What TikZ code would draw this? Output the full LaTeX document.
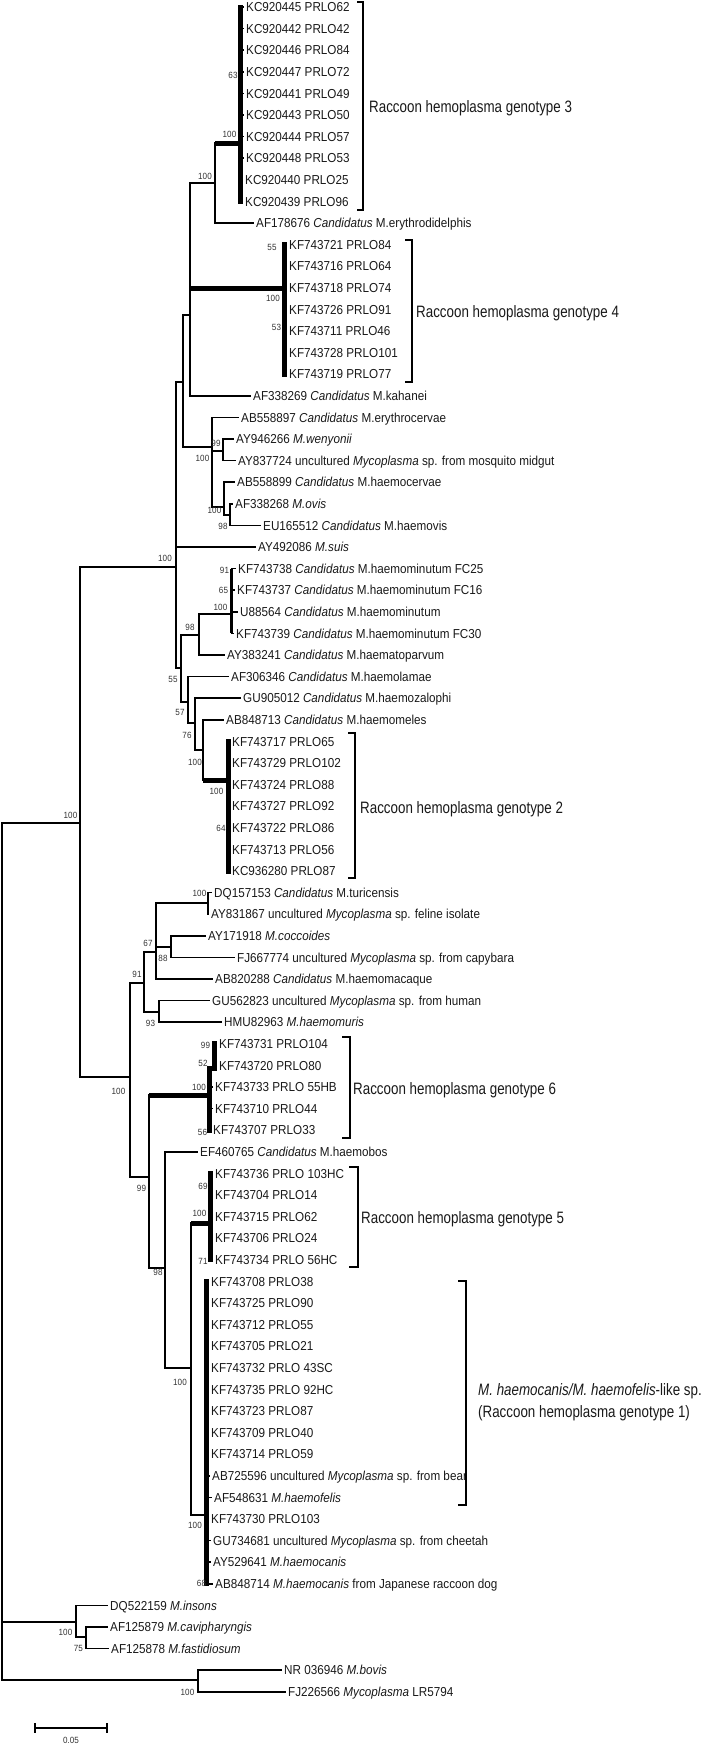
\documentclass[tikz,border=0pt]{standalone}
\usepackage{fontspec}
\setmainfont{Liberation Sans}
\newfontfamily\leaffont{Liberation Sans}[FakeStretch=0.9]
\newfontfamily\cladefont{Liberation Sans}[FakeStretch=0.81]
\usepackage{tikz}

\begin{document}
\begin{tikzpicture}[x=1pt,y=-1pt,
  leaf/.style={anchor=west,xshift=-2.5pt,inner xsep=2.5pt,inner ysep=0pt,text height=9.3pt,text depth=0pt,text=black!90,font=\leaffont\fontsize{13}{13}\selectfont},
  boot/.style={inner sep=0pt,text=black!80,font=\leaffont\fontsize{9}{9}\selectfont},
  clade/.style={anchor=west,inner sep=0pt,text height=12pt,text depth=0pt,text=black!90,font=\cladefont\fontsize{16.5}{22}\selectfont},
  ln/.style={line width=1.5pt},
  heavy/.style={line width=5pt},
  cbar/.style={line width=5pt,line cap=rect},
  brk/.style={line width=2pt}]
\useasboundingbox (0,0) rectangle (714,1746);

\node[leaf] (l0) at (246,7) {KC920445 PRLO62};
\node[leaf] (l1) at (246,28.6) {KC920442 PRLO42};
\node[leaf] (l2) at (246,50.2) {KC920446 PRLO84};
\node[leaf] (l3) at (246,71.8) {KC920447 PRLO72};
\node[leaf] (l4) at (246,93.4) {KC920441 PRLO49};
\node[leaf] (l5) at (246,115) {KC920443 PRLO50};
\node[leaf] (l6) at (246,136.6) {KC920444 PRLO57};
\node[leaf] (l7) at (246,158.2) {KC920448 PRLO53};
\node[leaf] (l8) at (245,179.8) {KC920440 PRLO25};
\node[leaf] (l9) at (245,201.4) {KC920439 PRLO96};
\node[leaf] (l10) at (256,223) {AF178676 \textit{Candidatus} M.erythrodidelphis};
\node[leaf] (l11) at (289,244.6) {KF743721 PRLO84};
\node[leaf] (l12) at (289,266.2) {KF743716 PRLO64};
\node[leaf] (l13) at (289,287.8) {KF743718 PRLO74};
\node[leaf] (l14) at (289,309.4) {KF743726 PRLO91};
\node[leaf] (l15) at (289,331) {KF743711 PRLO46};
\node[leaf] (l16) at (289,352.6) {KF743728 PRLO101};
\node[leaf] (l17) at (289,374.2) {KF743719 PRLO77};
\node[leaf] (l18) at (253,395.8) {AF338269 \textit{Candidatus} M.kahanei};
\node[leaf] (l19) at (241,417.4) {AB558897 \textit{Candidatus} M.erythrocervae};
\node[leaf] (l20) at (236,439) {AY946266 \textit{M.wenyonii}};
\node[leaf] (l21) at (238,460.6) {AY837724 uncultured \textit{Mycoplasma} sp. from mosquito midgut};
\node[leaf] (l22) at (237,482.2) {AB558899 \textit{Candidatus} M.haemocervae};
\node[leaf] (l23) at (235,503.8) {AF338268 \textit{M.ovis}};
\node[leaf] (l24) at (263,525.4) {EU165512 \textit{Candidatus} M.haemovis};
\node[leaf] (l25) at (258,547) {AY492086 \textit{M.suis}};
\node[leaf] (l26) at (238,568.6) {KF743738 \textit{Candidatus} M.haemominutum FC25};
\node[leaf] (l27) at (237,590.2) {KF743737 \textit{Candidatus} M.haemominutum FC16};
\node[leaf] (l28) at (240,611.8) {U88564 \textit{Candidatus} M.haemominutum};
\node[leaf] (l29) at (236,633.4) {KF743739 \textit{Candidatus} M.haemominutum FC30};
\node[leaf] (l30) at (227,655) {AY383241 \textit{Candidatus} M.haematoparvum};
\node[leaf] (l31) at (231,676.6) {AF306346 \textit{Candidatus} M.haemolamae};
\node[leaf] (l32) at (243,698.2) {GU905012 \textit{Candidatus} M.haemozalophi};
\node[leaf] (l33) at (226,719.8) {AB848713 \textit{Candidatus} M.haemomeles};
\node[leaf] (l34) at (232,741.4) {KF743717 PRLO65};
\node[leaf] (l35) at (232,763) {KF743729 PRLO102};
\node[leaf] (l36) at (232,784.6) {KF743724 PRLO88};
\node[leaf] (l37) at (232,806.2) {KF743727 PRLO92};
\node[leaf] (l38) at (232,827.8) {KF743722 PRLO86};
\node[leaf] (l39) at (232,849.4) {KF743713 PRLO56};
\node[leaf] (l40) at (232,871) {KC936280 PRLO87};
\node[leaf] (l41) at (214,892.6) {DQ157153 \textit{Candidatus} M.turicensis};
\node[leaf] (l42) at (211,914.2) {AY831867 uncultured \textit{Mycoplasma} sp. feline isolate};
\node[leaf] (l43) at (208,935.8) {AY171918 \textit{M.coccoides}};
\node[leaf] (l44) at (237,957.4) {FJ667774 uncultured \textit{Mycoplasma} sp. from capybara};
\node[leaf] (l45) at (215,979) {AB820288 \textit{Candidatus} M.haemomacaque};
\node[leaf] (l46) at (212,1000.6) {GU562823 uncultured \textit{Mycoplasma} sp. from human};
\node[leaf] (l47) at (224,1022.2) {HMU82963 \textit{M.haemomuris}};
\node[leaf] (l48) at (219,1043.8) {KF743731 PRLO104};
\node[leaf] (l49) at (219,1065.4) {KF743720 PRLO80};
\node[leaf] (l50) at (215,1087) {KF743733 PRLO 55HB};
\node[leaf] (l51) at (215,1108.6) {KF743710 PRLO44};
\node[leaf] (l52) at (213,1130.2) {KF743707 PRLO33};
\node[leaf] (l53) at (200,1151.8) {EF460765 \textit{Candidatus} M.haemobos};
\node[leaf] (l54) at (215,1173.4) {KF743736 PRLO 103HC};
\node[leaf] (l55) at (215,1195) {KF743704 PRLO14};
\node[leaf] (l56) at (215,1216.6) {KF743715 PRLO62};
\node[leaf] (l57) at (215,1238.2) {KF743706 PRLO24};
\node[leaf] (l58) at (215,1259.8) {KF743734 PRLO 56HC};
\node[leaf] (l59) at (211,1281.4) {KF743708 PRLO38};
\node[leaf] (l60) at (211,1303) {KF743725 PRLO90};
\node[leaf] (l61) at (211,1324.6) {KF743712 PRLO55};
\node[leaf] (l62) at (211,1346.2) {KF743705 PRLO21};
\node[leaf] (l63) at (211,1367.8) {KF743732 PRLO 43SC};
\node[leaf] (l64) at (211,1389.4) {KF743735 PRLO 92HC};
\node[leaf] (l65) at (211,1411) {KF743723 PRLO87};
\node[leaf] (l66) at (211,1432.6) {KF743709 PRLO40};
\node[leaf] (l67) at (211,1454.2) {KF743714 PRLO59};
\node[leaf] (l68) at (212,1475.8) {AB725596 uncultured \textit{Mycoplasma} sp. from bear};
\node[leaf] (l69) at (214,1497.4) {AF548631 \textit{M.haemofelis}};
\node[leaf] (l70) at (211,1519) {KF743730 PRLO103};
\node[leaf] (l71) at (213,1540.6) {GU734681 uncultured \textit{Mycoplasma} sp. from cheetah};
\node[leaf] (l72) at (213,1562.2) {AY529641 \textit{M.haemocanis}};
\node[leaf] (l73) at (215,1583.8) {AB848714 \textit{M.haemocanis} from Japanese raccoon dog};
\node[leaf] (l74) at (110,1605.4) {DQ522159 \textit{M.insons}};
\node[leaf] (l75) at (110,1627) {AF125879 \textit{M.cavipharyngis}};
\node[leaf] (l76) at (111,1648.6) {AF125878 \textit{M.fastidiosum}};
\node[leaf] (l77) at (284,1670.2) {NR 036946 \textit{M.bovis}};
\node[leaf] (l78) at (288,1691.8) {FJ226566 \textit{Mycoplasma} LR5794};

\coordinate (root) at (2,1250);
\coordinate (r2) at (80,823);
\coordinate (ins) at (76,1622);
\coordinate (ic) at (86,1637);
\coordinate (bov) at (198,1680);
\coordinate (b1) at (176,567);
\coordinate (n3) at (183,382);
\coordinate (n4) at (190,315);
\coordinate (ne) at (215,183);
\coordinate (g3) at (240,143);
\coordinate (g4) at (284.5,288);
\coordinate (ru) at (212,447);
\coordinate (w) at (223,451);
\coordinate (hc) at (224,507);
\coordinate (ov) at (230,515);
\coordinate (b2) at (181,668);
\coordinate (hm) at (199,635);
\coordinate (hmn) at (231.5,614);
\coordinate (b3) at (188,702);
\coordinate (b4) at (195,723);
\coordinate (b5) at (203,750);
\coordinate (g2) at (228,780);
\coordinate (hf) at (130,1077);
\coordinate (n144) at (144,983);
\coordinate (n156) at (156,952);
\coordinate (tp) at (208,903);
\coordinate (cp) at (171,947);
\coordinate (gh) at (159,1012);
\coordinate (n149) at (149,1177);
\coordinate (g6) at (209.5,1095);
\coordinate (g6t) at (214.5,1068);
\coordinate (n165) at (165,1268);
\coordinate (n190) at (191,1368);
\coordinate (g5) at (210,1223);
\coordinate (g1) at (206.5,1515);

\draw[ln] (root) |- (r2) (root) |- (ins) (root) |- (bov);
\draw[ln] (r2) |- (b1) (r2) |- (hf);
\draw[ln] (b1) |- (n3) (b1) |- (l25) (b1) |- (b2);
\draw[ln] (n3) |- (n4) (n3) |- (ru);
\draw[ln] (n4) |- (ne) (n4) |- (g4) (n4) |- (l18);
\draw[heavy] (n4 |- g4) -- (g4);
\draw[ln] (ne) |- (g3) (ne) |- (l10);
\draw[heavy] (ne |- g3) -- (g3);
\draw[cbar] (g3 |- l0) -- (g3 |- l9);
\draw[ln] (g3) |- (l0) (g3) |- (l1) (g3) |- (l2) (g3) |- (l3) (g3) |- (l4)
  (g3) |- (l5) (g3) |- (l6) (g3) |- (l7) (g3) |- (l8) (g3) |- (l9);
\draw[cbar] (g4 |- l11) -- (g4 |- l17);
\draw[ln] (g4) |- (l11) (g4) |- (l12) (g4) |- (l13) (g4) |- (l14)
  (g4) |- (l15) (g4) |- (l16) (g4) |- (l17);
\draw[ln] (ru) |- (l19) (ru) |- (w) (ru) |- (hc);
\draw[ln] (w) |- (l20) (w) |- (l21);
\draw[ln] (hc) |- (l22) (hc) |- (ov);
\draw[ln] (ov) |- (l23) (ov) |- (l24);
\draw[ln] (b2) |- (hm) (b2) |- (b3);
\draw[ln] (hm) |- (hmn) (hm) |- (l30);
\draw[line width=2.2pt] (hmn |- l26) -- (hmn |- l29);
\draw[ln] (hmn) |- (l26) (hmn) |- (l27) (hmn) |- (l28) (hmn) |- (l29);
\draw[ln] (b3) |- (l31) (b3) |- (b4);
\draw[ln] (b4) |- (l32) (b4) |- (b5);
\draw[ln] (b5) |- (l33) (b5) |- (g2);
\draw[heavy] (b5 |- g2) -- (g2);
\draw[cbar] (g2 |- l34) -- (g2 |- l40);
\draw[ln] (g2) |- (l34) (g2) |- (l35) (g2) |- (l36) (g2) |- (l37)
  (g2) |- (l38) (g2) |- (l39) (g2) |- (l40);
\draw[ln] (hf) |- (n144) (hf) |- (n149);
\draw[ln] (n144) |- (n156) (n144) |- (gh);
\draw[ln] (n156) |- (tp) (n156) |- (cp) (n156) |- (l45);
\draw[ln] (tp) |- (l41) (tp) |- (l42);
\draw[ln] (cp) |- (l43) (cp) |- (l44);
\draw[ln] (gh) |- (l46) (gh) |- (l47);
\draw[ln] (n149) |- (g6) (n149) |- (n165);
\draw[heavy] (n149 |- g6) -- (g6);
\draw[cbar] (g6t |- l48) -- (g6t);
\draw[cbar] (g6 |- g6t) -- (g6 |- l52);
\draw[ln] (g6t) |- (l48) (g6t) |- (l49) (g6) |- (l50) (g6) |- (l51) (g6) |- (l52);
\draw[ln] (n165) |- (l53) (n165) |- (n190);
\draw[ln] (n190) |- (g5) (n190) |- (g1);
\draw[heavy] (n190 |- g5) -- (g5);
\draw[cbar] (g5 |- l54) -- (g5 |- l58);
\draw[ln] (g5) |- (l54) (g5) |- (l55) (g5) |- (l56) (g5) |- (l57) (g5) |- (l58);
\draw[cbar] (g1 |- l59) -- (g1 |- l73);
\draw[ln] (g1) |- (l59) (g1) |- (l60) (g1) |- (l61) (g1) |- (l62) (g1) |- (l63)
  (g1) |- (l64) (g1) |- (l65) (g1) |- (l66) (g1) |- (l67) (g1) |- (l68)
  (g1) |- (l69) (g1) |- (l70) (g1) |- (l71) (g1) |- (l72) (g1) |- (l73);
\draw[ln] (ins) |- (l74) (ins) |- (ic);
\draw[ln] (ic) |- (l75) (ic) |- (l76);
\draw[ln] (bov) |- (l77) (bov) |- (l78);

\node[boot] (s1) at (233,75) {63};
\node[boot] (s2) at (229.5,134) {100};
\node[boot] (s3) at (205,176) {100};
\node[boot] (s4) at (272,247) {55};
\node[boot] (s5) at (273,298) {100};
\node[boot] (s6) at (276.5,327) {53};
\node[boot] (s7) at (216,443) {99};
\node[boot] (s8) at (202.5,458) {100};
\node[boot] (s9) at (214.5,510) {100};
\node[boot] (s10) at (223,526) {98};
\node[boot] (s11) at (165,558) {100};
\node[boot] (s12) at (224.5,570) {91};
\node[boot] (s13) at (223.5,590) {65};
\node[boot] (s14) at (220.5,607) {100};
\node[boot] (s15) at (190,627) {98};
\node[boot] (s16) at (173,679) {55};
\node[boot] (s17) at (180,712) {57};
\node[boot] (s18) at (187,735) {76};
\node[boot] (s19) at (195,762) {100};
\node[boot] (s20) at (216.5,791) {100};
\node[boot] (s21) at (221,828) {64};
\node[boot] (s22) at (70.5,815) {100};
\node[boot] (s23) at (199.5,893) {100};
\node[boot] (s24) at (148,943) {67};
\node[boot] (s25) at (163,958) {88};
\node[boot] (s26) at (137,974) {91};
\node[boot] (s27) at (150.5,1023) {93};
\node[boot] (s28) at (205.5,1045) {99};
\node[boot] (s29) at (203,1063) {52};
\node[boot] (s30) at (199,1087) {100};
\node[boot] (s31) at (118.5,1091) {100};
\node[boot] (s32) at (202.5,1132) {56};
\node[boot] (s33) at (203,1186) {69};
\node[boot] (s34) at (141.5,1188) {99};
\node[boot] (s35) at (199.5,1213) {100};
\node[boot] (s36) at (203,1261) {71};
\node[boot] (s37) at (158,1272) {98};
\node[boot] (s38) at (180,1382) {100};
\node[boot] (s39) at (195,1525) {100};
\node[boot] (s40) at (201.5,1583) {68};
\node[boot] (s41) at (65.5,1632) {100};
\node[boot] (s42) at (78.5,1648) {75};
\node[boot] (s43) at (187.5,1692) {100};

\draw[brk] (357,2) -- (363,2) -- (363,210) -- (357,210);
\node[clade] (c3) at (369,106) {Raccoon hemoplasma genotype 3};
\draw[brk] (405,240) -- (412,240) -- (412,382) -- (405,382);
\node[clade] (c4) at (416,311) {Raccoon hemoplasma genotype 4};
\draw[brk] (348,733) -- (355,733) -- (355,878) -- (348,878);
\node[clade] (c2) at (360,807) {Raccoon hemoplasma genotype 2};
\draw[brk] (342,1037) -- (350,1037) -- (350,1138) -- (342,1138);
\node[clade] (c6) at (353,1088) {Raccoon hemoplasma genotype 6};
\draw[brk] (349,1167) -- (358,1167) -- (358,1267) -- (349,1267);
\node[clade] (c5) at (361,1217) {Raccoon hemoplasma genotype 5};
\draw[brk] (458,1281) -- (466,1281) -- (466,1505) -- (458,1505);
\node[clade,text height=,align=left] (c1) at (478,1401) {\textit{M. haemocanis/M. haemofelis}-like sp.\\(Raccoon hemoplasma genotype 1)};

\coordinate (sa) at (35,1728);
\coordinate (sb) at (107,1728);
\draw[ln] (sa) -- (sb);
\draw[ln] ([yshift=5pt]sa) -- ([yshift=-5pt]sa);
\draw[ln] ([yshift=5pt]sb) -- ([yshift=-5pt]sb);
\node[boot] (sl) at (71,1740) {0.05};
\end{tikzpicture}
\end{document}
